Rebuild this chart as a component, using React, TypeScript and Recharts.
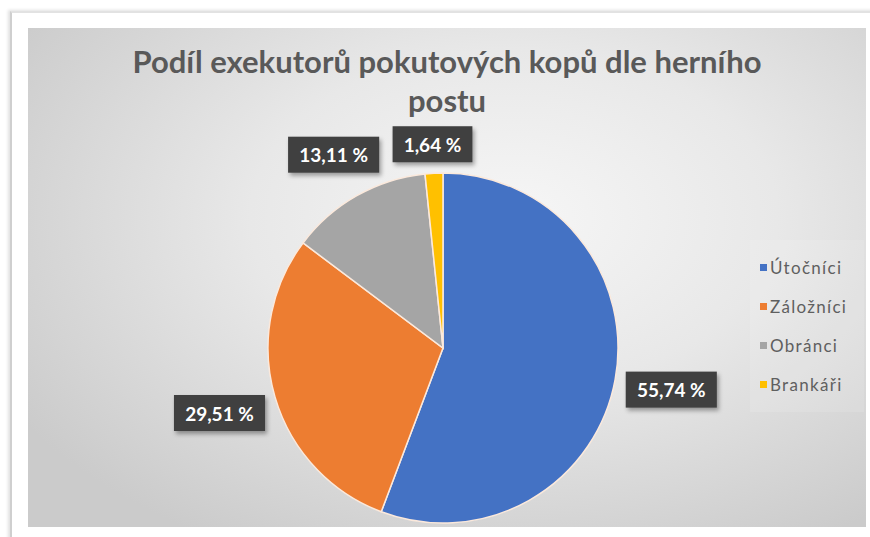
import { Legend, Pie, PieChart } from "recharts";

const categories = ["Útočníci", "Záložníci", "Obránci", "Brankáři"];
const shares = [55.74, 29.51, 13.11, 1.64];
const sliceColors = ["#4472C4", "#ED7D31", "#A5A5A5", "#FFC000"];
const titleLines = ["Podíl exekutorů pokutových kopů dle herního", "postu"];

const data = categories.map((name, i) => ({ name, value: shares[i], fill: sliceColors[i] }));

const FONT = "Lato, 'Open Sans', sans-serif";
const RAD = Math.PI / 180;

function formatShare(v: number) {
  return v.toFixed(2).replace(".", ",") + " %";
}

// dark box label sitting just outside the slice, like Excel's "outside end"
function renderLabel(props: any) {
  const { cx, cy, midAngle, outerRadius, value, index } = props;
  const text = formatShare(value);
  const w = text.length * 11.3 + 12;
  const h = 36;
  const cos = Math.cos(-midAngle * RAD);
  const sin = Math.sin(-midAngle * RAD);
  const d = outerRadius + 9 + (w / 2) * Math.abs(cos) + (h / 2) * Math.abs(sin);
  const x = cx + d * cos;
  const y = cy + d * sin;
  return (
    <g key={`lbl-${index}`}>
      <rect
        x={x - w / 2}
        y={y - h / 2}
        width={w}
        height={h}
        fill="#404040"
        style={{ filter: "drop-shadow(2px 3px 2px rgba(0,0,0,0.35))" }}
      />
      <text
        x={x}
        y={y}
        textAnchor="middle"
        dominantBaseline="central"
        fill="#ffffff"
        fontFamily={FONT}
        fontWeight={700}
        fontSize={19}
      >
        {text}
      </text>
    </g>
  );
}

function LegendBox({ payload }: any) {
  // keep the legend in the same order as the categories
  const items = [...(payload || [])].sort(
    (a: any, b: any) => categories.indexOf(a.value) - categories.indexOf(b.value)
  );
  return (
    <div style={{ padding: "8px 0 8px 10px" }}>
      {items.map((entry: any) => (
        <div
          key={entry.value}
          style={{ display: "flex", alignItems: "center", height: 39, fontSize: 17, color: "#5f5f5f", fontFamily: FONT }}
        >
          <span style={{ width: 7, height: 7, background: entry.color, marginRight: 3, display: "inline-block" }} />
          <span style={{ letterSpacing: 1.3 }}>{entry.value}</span>
        </div>
      ))}
    </div>
  );
}

export default function App() {
  return (
    <div style={{ position: "absolute", left: 0, top: 0, width: 870, height: 537, background: "#fff", overflow: "hidden" }}>
      <div
        style={{
          position: "absolute",
          left: 10,
          top: 11,
          width: 900,
          height: 600,
          borderLeft: "2px solid #cfcfcf",
          borderTop: "2px solid #e2e2e2",
          boxShadow: "-2px -1px 3px rgba(0,0,0,0.12)",
        }}
      />
      <div
        style={{
          position: "absolute",
          left: 28,
          top: 28,
          width: 838,
          height: 499,
          background: "radial-gradient(ellipse 70% 75% at 58% 38%, #f6f6f6 0%, #e8e8e8 45%, #cbcbcb 100%)",
        }}
      />
      <div
        style={{
          position: "absolute",
          left: 28,
          top: 42,
          width: 838,
          textAlign: "center",
          fontFamily: FONT,
          fontWeight: 700,
          fontSize: 31,
          lineHeight: "39px",
          color: "#595959",
        }}
      >
        {titleLines.map((line) => (
          <div key={line}>{line}</div>
        ))}
      </div>
      <div style={{ position: "absolute", left: 0, top: 0 }}>
        <PieChart width={870} height={537} margin={{ top: 0, right: 0, bottom: 0, left: 0 }}>
          <Pie
            data={data}
            dataKey="value"
            nameKey="name"
            cx={443}
            cy={348}
            outerRadius={175}
            startAngle={90}
            endAngle={-270}
            stroke="#fbe9dc"
            strokeWidth={1.5}
            label={renderLabel}
            labelLine={false}
            isAnimationActive={false}
          />
          <Legend
            layout="vertical"
            align="right"
            verticalAlign="middle"
            content={<LegendBox />}
            wrapperStyle={{ left: 750, top: 240, width: 114, background: "rgba(255,255,255,0.12)" }}
          />
        </PieChart>
      </div>
    </div>
  );
}
